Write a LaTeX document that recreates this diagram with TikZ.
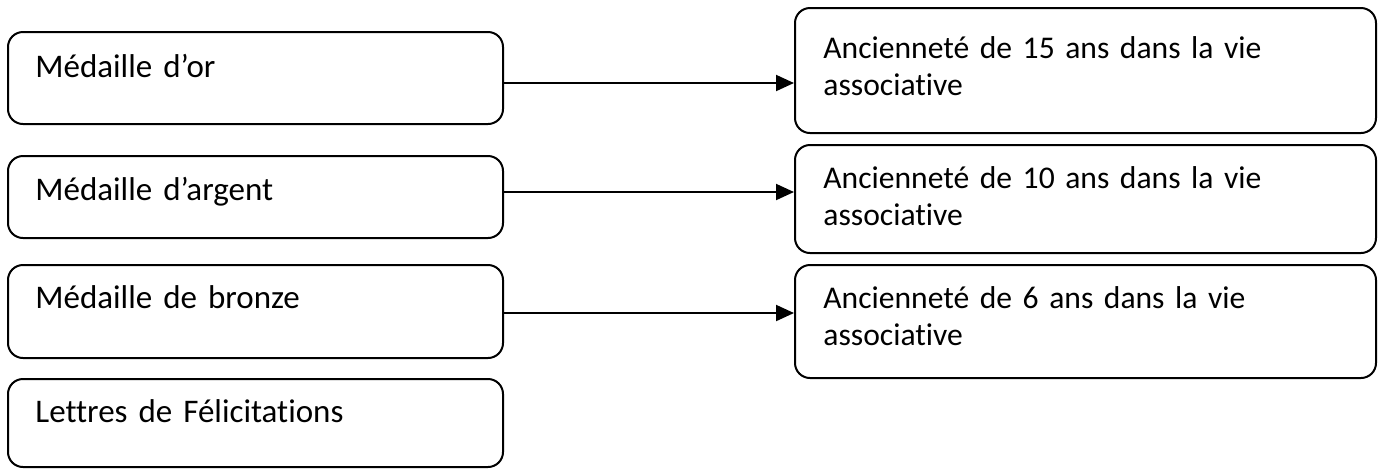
\documentclass[tikz,border=0pt]{standalone}
\usepackage{fontspec}
\setmainfont{Carlito}[Ligatures=NoCommon]
\usetikzlibrary{arrows.meta}

\tikzset{
	boite/.style={draw, rounded corners=7.5pt, line width=1pt, anchor=north west, inner sep=0pt},
	texte/.style={anchor=base west, inner sep=0pt, align=left, text width=285pt, font=\fontsize{16.5}{18.5}\selectfont},
	texte2/.style={texte, font=\fontsize{15.8}{18.5}\selectfont},
	fleche/.style={line width=1pt, -{Triangle[length=9pt,width=8pt]}}
}

\begin{document}
\begin{tikzpicture}[x=0.5pt, y=-0.5pt]
	\useasboundingbox (0,0) rectangle (1381,468);
	% medailles
	\node[boite, minimum width=247.5pt, minimum height=46pt] (or) at (7,31) {};
	\node[boite, minimum width=247.5pt, minimum height=41pt] (argent) at (7,155) {};
	\node[boite, minimum width=247.5pt, minimum height=46.5pt] (bronze) at (7,264) {};
	\node[boite, minimum width=247.5pt, minimum height=44pt] (lettres) at (7,378) {};
	\node[texte] (tor) at (35,77) {Médaille d’or};
	\node[texte] (targent) at (35,200) {Médaille d’argent};
	\node[texte] (tbronze) at (35,308) {Médaille de bronze};
	\node[texte] (tlettres) at (35,422) {Lettres de Félicitations};
	% anciennete
	\node[boite, minimum width=290.5pt, minimum height=62.5pt] (anc15) at (794,7) {};
	\node[boite, minimum width=290.5pt, minimum height=54pt] (anc10) at (794,144) {};
	\node[boite, minimum width=290.5pt, minimum height=56.5pt] (anc6) at (794,264) {};
	\node[texte2] (t15) at (823,58) {Ancienneté de 15 ans dans la vie\\associative};
	\node[texte2] (t10) at (823,188) {Ancienneté de 10 ans dans la vie\\associative};
	\node[texte2] (t6) at (823,308) {Ancienneté de 6 ans dans la vie\\associative};
	% fleches
	\draw[fleche] ([yshift=-2.5pt]or.east) -- ([yshift=-2.5pt]or.east -| anc15.west);
	\draw[fleche] ([yshift=2.5pt]argent.east) -- ([yshift=2.5pt]argent.east -| anc10.west);
	\draw[fleche] ([yshift=-0.75pt]bronze.east) -- ([yshift=-0.75pt]bronze.east -| anc6.west);
\end{tikzpicture}
\end{document}
